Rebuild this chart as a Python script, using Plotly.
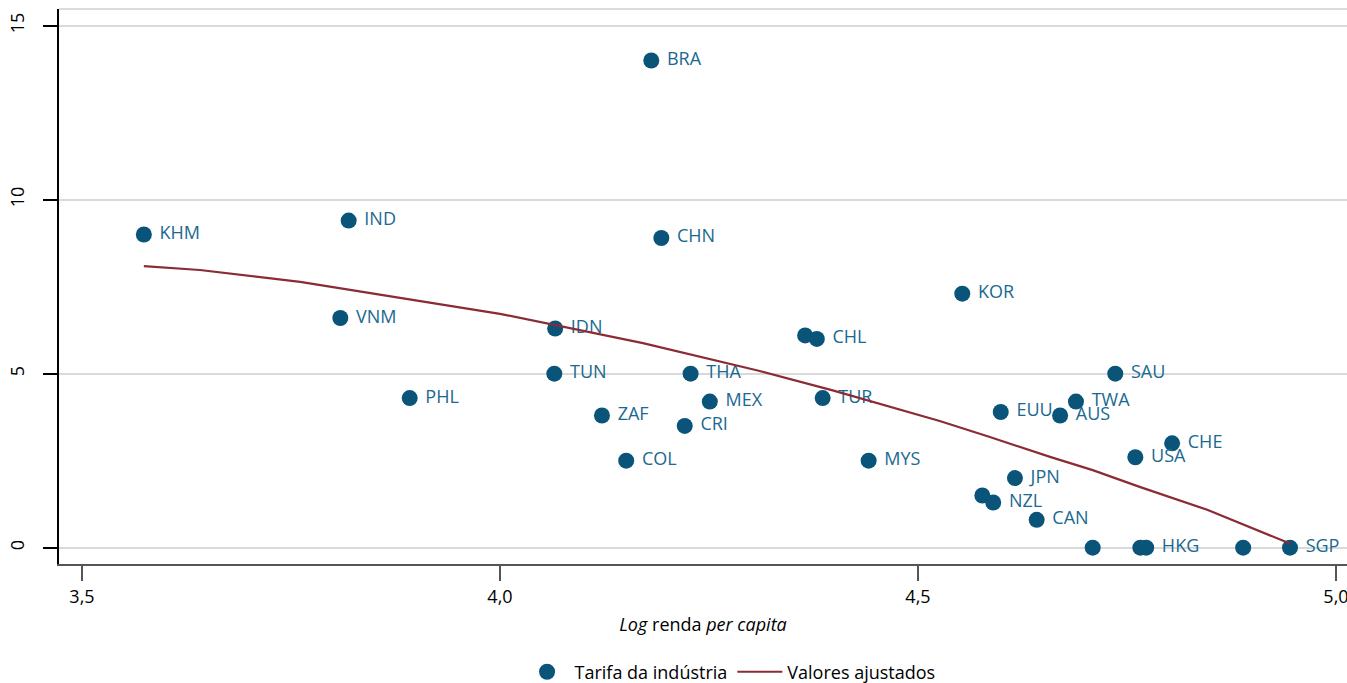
import plotly.graph_objects as go

# Scatter data: log income per capita vs. industry tariff
countries = ["KHM", "IND", "VNM", "PHL", "BRA", "CHN", "IDN", "TUN", "ZAF", "COL",
             "THA", "MEX", "CRI", "", "CHL", "TUR", "MYS", "KOR", "EUU", "AUS",
             "TWA", "SAU", "CHE", "USA", "JPN", "", "NZL", "CAN", "", "",
             "HKG", "", "SGP"]
log_income = [3.574, 3.819, 3.809, 3.892, 4.181, 4.193, 4.066, 4.065, 4.122, 4.151,
              4.228, 4.251, 4.221, 4.365, 4.379, 4.386, 4.441, 4.553, 4.599, 4.670,
              4.689, 4.736, 4.804, 4.760, 4.616, 4.577, 4.590, 4.642, 4.709, 4.766,
              4.773, 4.889, 4.945]
tariff = [9.0, 9.4, 6.6, 4.3, 14.0, 8.9, 6.3, 5.0, 3.8, 2.5,
          5.0, 4.2, 3.5, 6.1, 6.0, 4.3, 2.5, 7.3, 3.9, 3.8,
          4.2, 5.0, 3.0, 2.6, 2.0, 1.5, 1.3, 0.8, 0.0, 0.0,
          0.0, 0.0, 0.0]

# Fitted values
fit_x = [3.574, 3.641, 3.761, 3.880, 4.000, 4.171, 4.307, 4.398, 4.478, 4.526,
         4.586, 4.658, 4.709, 4.766, 4.846, 4.945]
fit_y = [8.09, 7.98, 7.64, 7.18, 6.72, 5.88, 5.10, 4.52, 3.97, 3.64,
         3.18, 2.61, 2.23, 1.74, 1.09, 0.12]

x_ticks = [3.5, 4.0, 4.5, 5.0]
x_ticktext = ["3,5", "4,0", "4,5", "5,0"]
y_ticks = [0, 5, 10, 15]

FONT = "Open Sans"
FS = 18
MARKER = "#0b5479"
LABEL = "#1a6990"
LINE = "#8a2b35"

fig = go.Figure()
fig.add_trace(go.Scatter(
    x=log_income, y=tariff, mode="markers+text",
    text=[(" " + c) if c else "" for c in countries],
    textposition="middle right",
    textfont=dict(family=FONT, size=FS, color=LABEL),
    marker=dict(size=16, color=MARKER, line=dict(width=0)),
    name="Tarifa da indústria",
))
fig.add_trace(go.Scatter(
    x=fit_x, y=fit_y, mode="lines",
    line=dict(color=LINE, width=2.2),
    name="Valores ajustados",
))

fig.update_layout(
    width=1347, height=683,
    margin=dict(l=59, r=0, t=9, b=119, autoexpand=False),
    paper_bgcolor="white", plot_bgcolor="white",
    font=dict(family=FONT, size=FS, color="black"),
    separators=",.",
    showlegend=True,
    legend=dict(orientation="h", x=0.521, xanchor="center",
                yref="container", y=0.016, yanchor="middle",
                itemwidth=45,
                font=dict(family=FONT, size=FS, color="black"),
                traceorder="normal"),
    xaxis=dict(
        range=[3.4725, 5.0132], tickvals=x_ticks, ticktext=x_ticktext,
        showgrid=False, zeroline=False, automargin=False,
        showline=True, linecolor="#555555", linewidth=2,
        ticks="outside", ticklen=15, tickwidth=2, tickcolor="#555555",
        ticklabeloverflow="allow",
        tickfont=dict(family=FONT, size=FS, color="black"),
        title=dict(text="<i>Log</i> renda <i>per capita</i>", standoff=12,
                   font=dict(family=FONT, size=FS, color="black")),
    ),
    yaxis=dict(
        range=[-0.468, 15.48], tickvals=y_ticks, automargin=False,
        showgrid=True, gridcolor="#d9d9d9", gridwidth=1.5, zeroline=False,
        showline=True, linecolor="black", linewidth=1.5,
        ticks="outside", ticklen=14, tickwidth=1.5, tickcolor="black",
        tickangle=-90, ticklabelstandoff=12,
        tickfont=dict(family=FONT, size=FS, color="black"),
    ),
    shapes=[dict(type="line", xref="paper", yref="paper", x0=0, x1=1, y0=1, y1=1,
                 line=dict(color="#d0d0d0", width=1.5))],
    annotations=[dict(
        text="Diagrama de dispersão entre tarifa da indústria e renda <i>per capita</i> dos países (2015)",
        xref="paper", yref="paper", x=0.012, y=1.010, xanchor="left", yanchor="bottom",
        showarrow=False, font=dict(family=FONT, size=17, color="black"),
    )],
)

fig.write_html("out.html")
